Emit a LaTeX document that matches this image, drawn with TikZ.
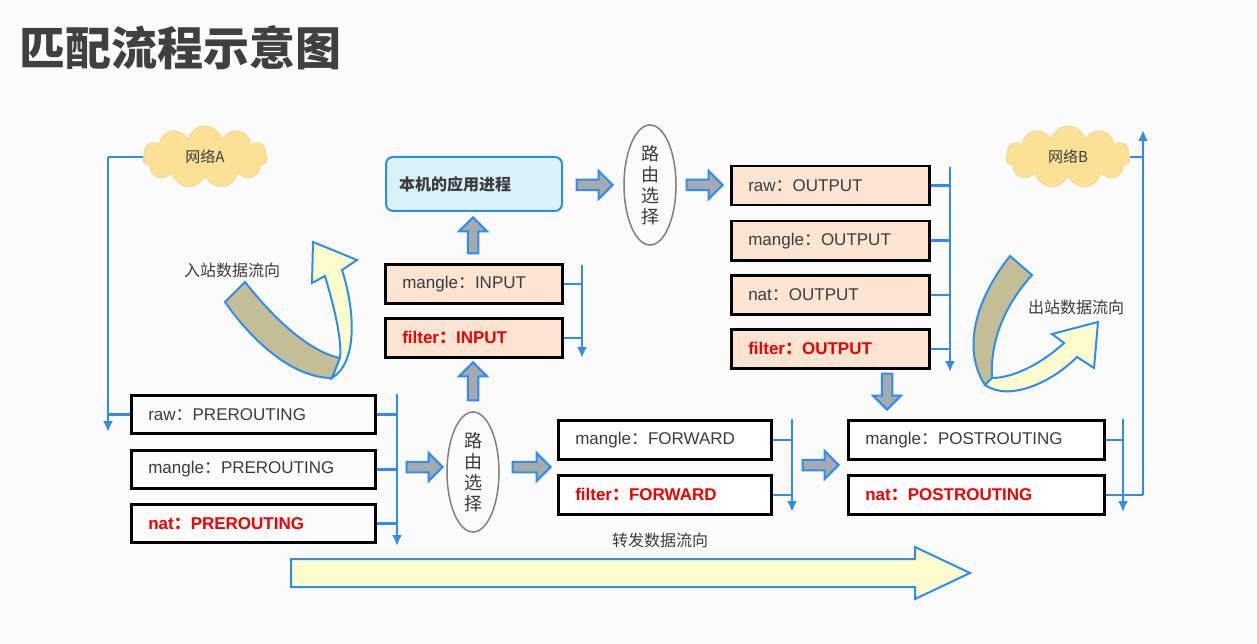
\documentclass[tikz,border=0pt]{standalone}
\usepackage{fontspec}
\setmainfont{Liberation Sans}
\newfontfamily\cjk{Noto Sans CJK SC}
\usetikzlibrary{shapes.geometric,shapes.arrows,shapes.symbols,arrows.meta}
\definecolor{bl}{RGB}{50,140,240}
\definecolor{peach}{RGB}{252,228,210}
\definecolor{txt}{RGB}{60,60,60}
\definecolor{rd}{RGB}{235,0,0}
\definecolor{fatg}{RGB}{165,170,175}
\definecolor{cloudf}{RGB}{250,225,150}
\definecolor{yel}{RGB}{252,252,205}
\definecolor{olive}{RGB}{195,190,150}
\newcommand{\cc}{{\cjk ：}}
\tikzset{
 box/.style={draw=black,line width=2.5pt,anchor=north west,inner xsep=17pt,align=left,font=\fontsize{17}{20}\selectfont,text=txt},
 red/.style={text=rd,font=\fontsize{17}{20}\selectfont\bfseries},
 bus/.style={draw=bl,line width=2.5pt},
 busarr/.style={bus,-{Latex[length=11pt,width=10pt]}},
 fat/.style={single arrow,draw=bl,line width=2pt,fill=fatg,minimum width=28pt,single arrow head extend=5pt,inner sep=2pt,single arrow tip angle=90},
 route/.style={ellipse,draw=gray,line width=1.5pt,minimum width=52pt,minimum height=120pt,align=center,font=\cjk\fontsize{18}{21}\selectfont,text=txt,inner sep=0pt},
 cld/.style={cloud,cloud puffs=11,aspect=2,draw=cloudf!80!brown,fill=cloudf,minimum width=125pt,minimum height=62pt,font=\cjk\fontsize{15}{17}\selectfont,text=txt},
}
\begin{document}
\begin{tikzpicture}[x=1pt,y=-1pt]
\useasboundingbox[fill=white!97!gray] (0,0) rectangle (1257,644);
\node[anchor=west,font=\cjk\bfseries\fontsize{46}{50}\selectfont,text=black!75] (title) at (16,48) {匹配流程示意图};
% clouds
\node[cld] (na) at (205,157) {网络A};
\node[cld] (nb) at (1068,157) {网络B};
% prerouting
\node[box,text width=210pt,minimum width=244pt,minimum height=38pt] (rp1) at (130,394) {raw\cc PREROUTING};
\node[box,text width=210pt,minimum width=244pt,minimum height=38pt] (rp2) at (130,449) {mangle\cc PREROUTING};
\node[box,text width=210pt,minimum width=244pt,minimum height=38pt,red] (rp3) at (130,503) {nat\cc PREROUTING};
% input
\node[box,fill=peach,text width=143pt,minimum width=177pt,minimum height=39pt] (mi) at (384,263) {mangle\cc INPUT};
\node[box,fill=peach,text width=143pt,minimum width=177pt,minimum height=39pt,red] (fi) at (384,317) {filter\cc INPUT};
\node[draw=bl,line width=2pt,rounded corners=7pt,fill=cyan!15,minimum width=176pt,minimum height=54pt,anchor=north west,align=left,text width=150pt,inner xsep=10pt,font=\cjk\bfseries\fontsize{16}{19}\selectfont,text=txt] (app) at (385,156) {本机的应用进程};
% output
\node[box,fill=peach,text width=164pt,minimum width=198pt,minimum height=39pt] (ro) at (730,165) {raw\cc OUTPUT};
\node[box,fill=peach,text width=164pt,minimum width=198pt,minimum height=39pt] (mo) at (730,220) {mangle\cc OUTPUT};
\node[box,fill=peach,text width=164pt,minimum width=198pt,minimum height=39pt] (no) at (730,274) {nat\cc OUTPUT};
\node[box,fill=peach,text width=164pt,minimum width=198pt,minimum height=39pt,red] (fo) at (730,328) {filter\cc OUTPUT};
% forward
\node[box,fill=white,text width=179pt,minimum width=213pt,minimum height=39pt] (mf) at (557,419) {mangle\cc FORWARD};
\node[box,fill=white,text width=179pt,minimum width=213pt,minimum height=39pt,red] (ff) at (557,474) {filter\cc FORWARD};
% postrouting
\node[box,fill=white,text width=222pt,minimum width=256pt,minimum height=39pt] (mp) at (847,419) {mangle\cc POSTROUTING};
\node[box,fill=white,text width=222pt,minimum width=256pt,minimum height=39pt,red] (np) at (847,474) {nat\cc POSTROUTING};
% route ellipses
\node[route] (r1) at (473,472) {路\\由\\选\\择};
\node[route] (r2) at (650,185) {路\\由\\选\\择};
% buses
\coordinate (b1t) at (397,394); \coordinate (b1b) at (397,546);
\draw[busarr] (b1t) -- (b1b);
\foreach \n in {rp1,rp2,rp3} \draw[bus] (\n.east) -- (\n.east -| b1t);
\coordinate (b2t) at (582,265); \coordinate (b2b) at (582,358);
\draw[busarr] (b2t) -- (b2b);
\foreach \n in {mi,fi} \draw[bus] (\n.east) -- (\n.east -| b2t);
\coordinate (b3t) at (950,167); \coordinate (b3b) at (950,372);
\draw[busarr] (b3t) -- (b3b);
\foreach \n in {ro,mo,no,fo} \draw[bus] (\n.east) -- (\n.east -| b3t);
\coordinate (b4t) at (792,419); \coordinate (b4b) at (792,512);
\draw[busarr] (b4t) -- (b4b);
\foreach \n in {mf,ff} \draw[bus] (\n.east) -- (\n.east -| b4t);
\coordinate (b5t) at (1123,419); \coordinate (b5b) at (1123,512);
\draw[busarr] (b5t) -- (b5b);
\foreach \n in {mp,np} \draw[bus] (\n.east) -- (\n.east -| b5t);
% network A feed
\coordinate (la) at (108,152); \coordinate (lab) at (108,432);
\draw[bus] (na.west) -- (na.west -| la);
\draw[busarr] (na.west -| la) -- (lab);
\draw[bus] (rp1.west) -- (rp1.west -| la);
% network B feed
\coordinate (lb) at (1143,130);
\draw[bus] (np.east) -- (np.east -| lb);
\draw[busarr] (np.east -| lb) -- (lb);
\draw[bus] (nb.east) -- (nb.east -| lb);
% fat arrows
\node[fat,minimum height=36pt] (f1) at (422,467) {};
\node[fat,minimum height=38pt] (f2) at (529,467) {};
\node[fat,minimum height=36pt] (f3) at (818,465) {};
\node[fat,minimum height=36pt] (f4) at (592,185) {};
\node[fat,minimum height=36pt] (f5) at (702,185) {};
\node[fat,minimum height=38pt,shape border rotate=90] (f6) at (473,384) {};
\node[fat,minimum height=36pt,shape border rotate=90] (f7) at (473,238) {};
\node[fat,minimum height=36pt,shape border rotate=270] (f8) at (887,389) {};
% curved arrows
\draw[bl,line width=2pt,fill=olive] (225,302) -- (245,282) .. controls (275,320) and (310,352) .. (340,358) -- (332,378) .. controls (295,378) and (255,345) .. (225,302) -- cycle;
\draw[bl,line width=2pt,fill=yel] (332,378) .. controls (358,362) and (355,310) .. (342,270) -- (357,260) -- (313,242) -- (312,283) -- (325,276) .. controls (335,310) and (342,340) .. (340,358) -- cycle;
\node[font=\cjk\fontsize{16}{19}\selectfont,text=txt] (tin) at (232,270) {入站数据流向};
\draw[bl,line width=2pt,fill=olive] (1010,256) -- (1032,275) .. controls (1005,305) and (990,340) .. (992,378) -- (985,385) .. controls (962,350) and (975,300) .. (1010,256) -- cycle;
\draw[bl,line width=2pt,fill=yel] (985,385) .. controls (1010,402) and (1052,382) .. (1077,357) -- (1094,368) -- (1098,322) -- (1052,334) -- (1064,343) .. controls (1040,365) and (1012,378) .. (992,378) -- cycle;
\node[font=\cjk\fontsize{16}{19}\selectfont,text=txt] (tout) at (1076,307) {出站数据流向};
% bottom big arrow
\draw[bl,line width=2pt,fill=yel] (291,559) -- (915,559) -- (915,547) -- (970,573) -- (915,599) -- (915,587) -- (291,587) -- cycle;
\node[font=\cjk\fontsize{16}{19}\selectfont,text=txt] (tfw) at (660,540) {转发数据流向};
\end{tikzpicture}
\end{document}
